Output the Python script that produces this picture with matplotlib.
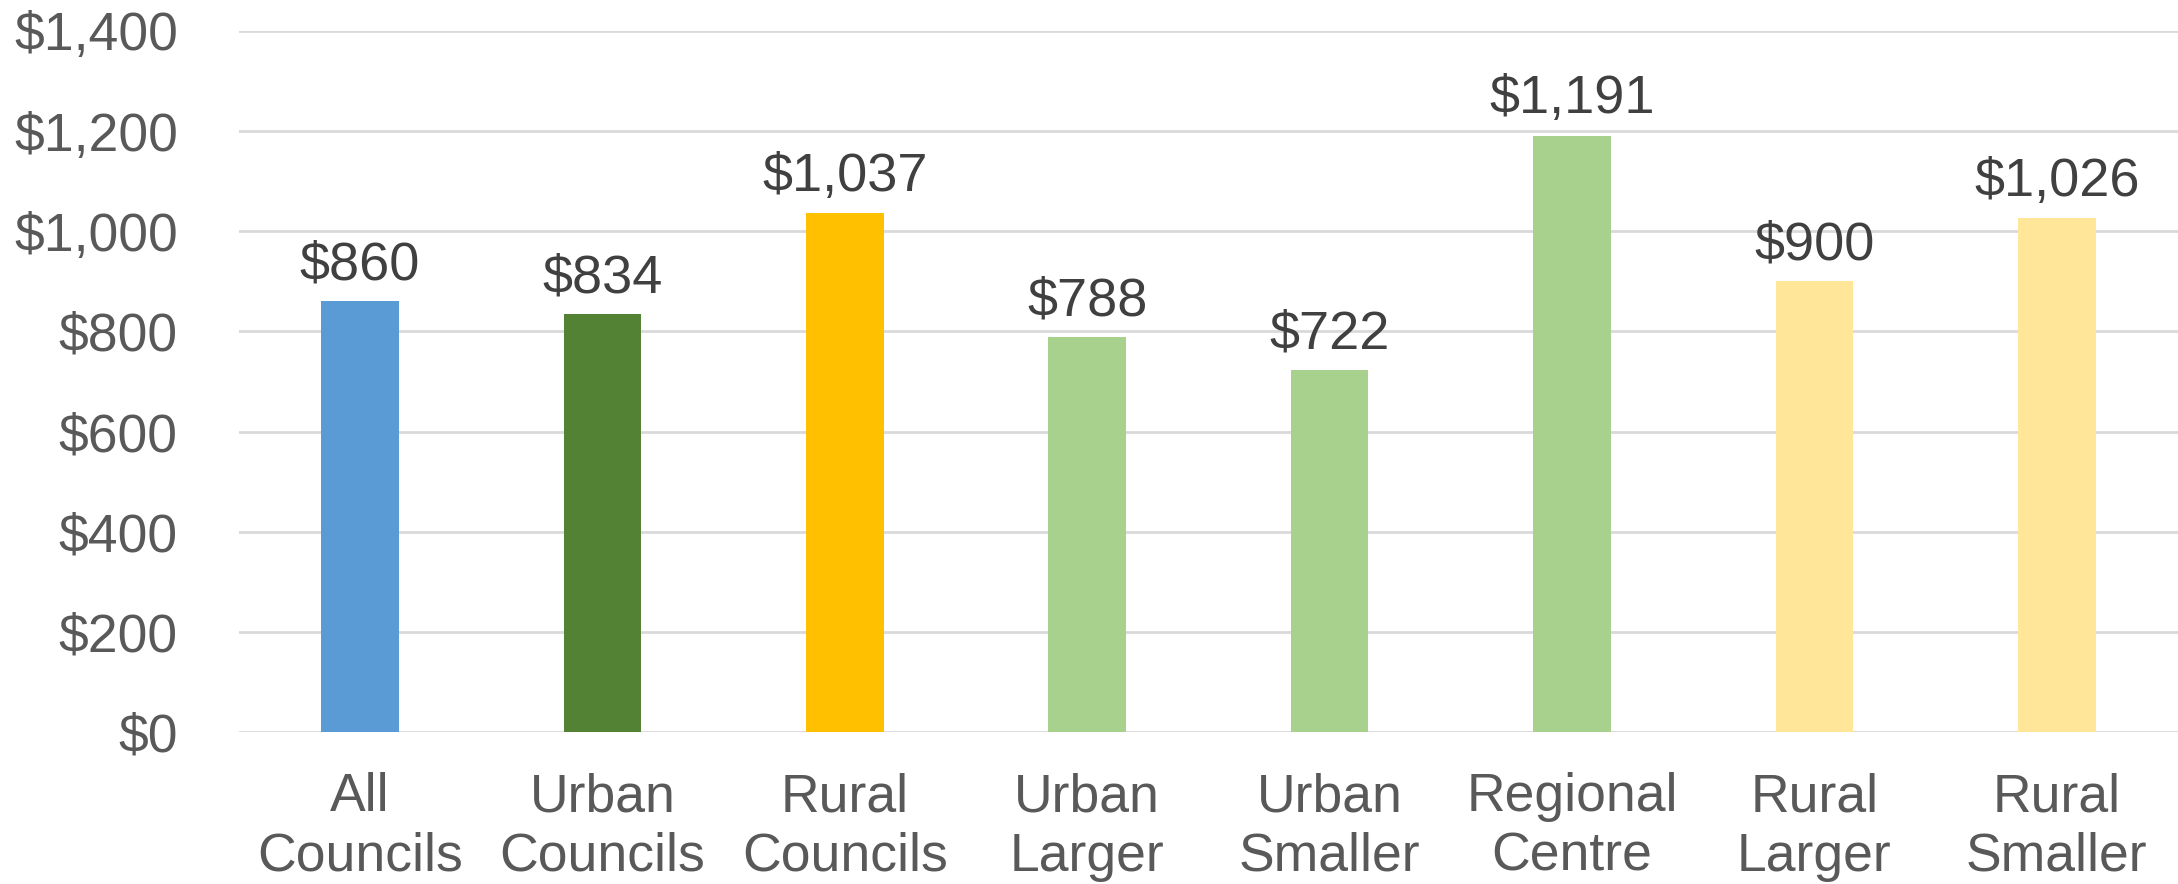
import numpy as np
import matplotlib.pyplot as plt
from matplotlib.ticker import FuncFormatter

categories = ['All\nCouncils', 'Urban\nCouncils', 'Rural\nCouncils', 'Urban\nLarger',
              'Urban\nSmaller', 'Regional\nCentre', 'Rural\nLarger', 'Rural\nSmaller']
values = [860, 834, 1037, 788, 722, 1191, 900, 1026]
colors = ['#5B9BD5', '#548235', '#FFC000', '#A9D18E',
          '#A9D18E', '#A9D18E', '#FFE699', '#FFE699']

plt.rcParams['font.family'] = ['Liberation Sans', 'DejaVu Sans']

fig = plt.figure(figsize=(21.78, 8.84), dpi=100)
ax = fig.add_axes([0.1097, 0.172, 0.8903, 0.793])

x = np.arange(len(categories))
bars = ax.bar(x, values, width=0.32, color=colors, zorder=2)

for xi, v in zip(x, values):
    ax.annotate('${:,}'.format(v), (xi, v), xytext=(0, 8), textcoords='offset points',
                ha='center', va='bottom', fontsize=39, color='#404040')

ax.set_xlim(-0.5, len(categories) - 0.5)
ax.set_ylim(0, 1400)
ax.set_yticks(np.arange(0, 1401, 200))
ax.yaxis.set_major_formatter(FuncFormatter(lambda v, p: '${:,.0f}'.format(v)))
ax.set_xticks(x)
ax.set_xticklabels(categories, linespacing=1.25)

ax.grid(axis='y', color='#D9D9D9', linewidth=2, zorder=0)
for s in ax.spines.values():
    s.set_visible(False)
ax.tick_params(axis='both', length=0, labelsize=38.5, colors='#595959')
ax.tick_params(axis='y', pad=44)
ax.tick_params(axis='x', pad=29)

fig.savefig('out.png', dpi=100)
